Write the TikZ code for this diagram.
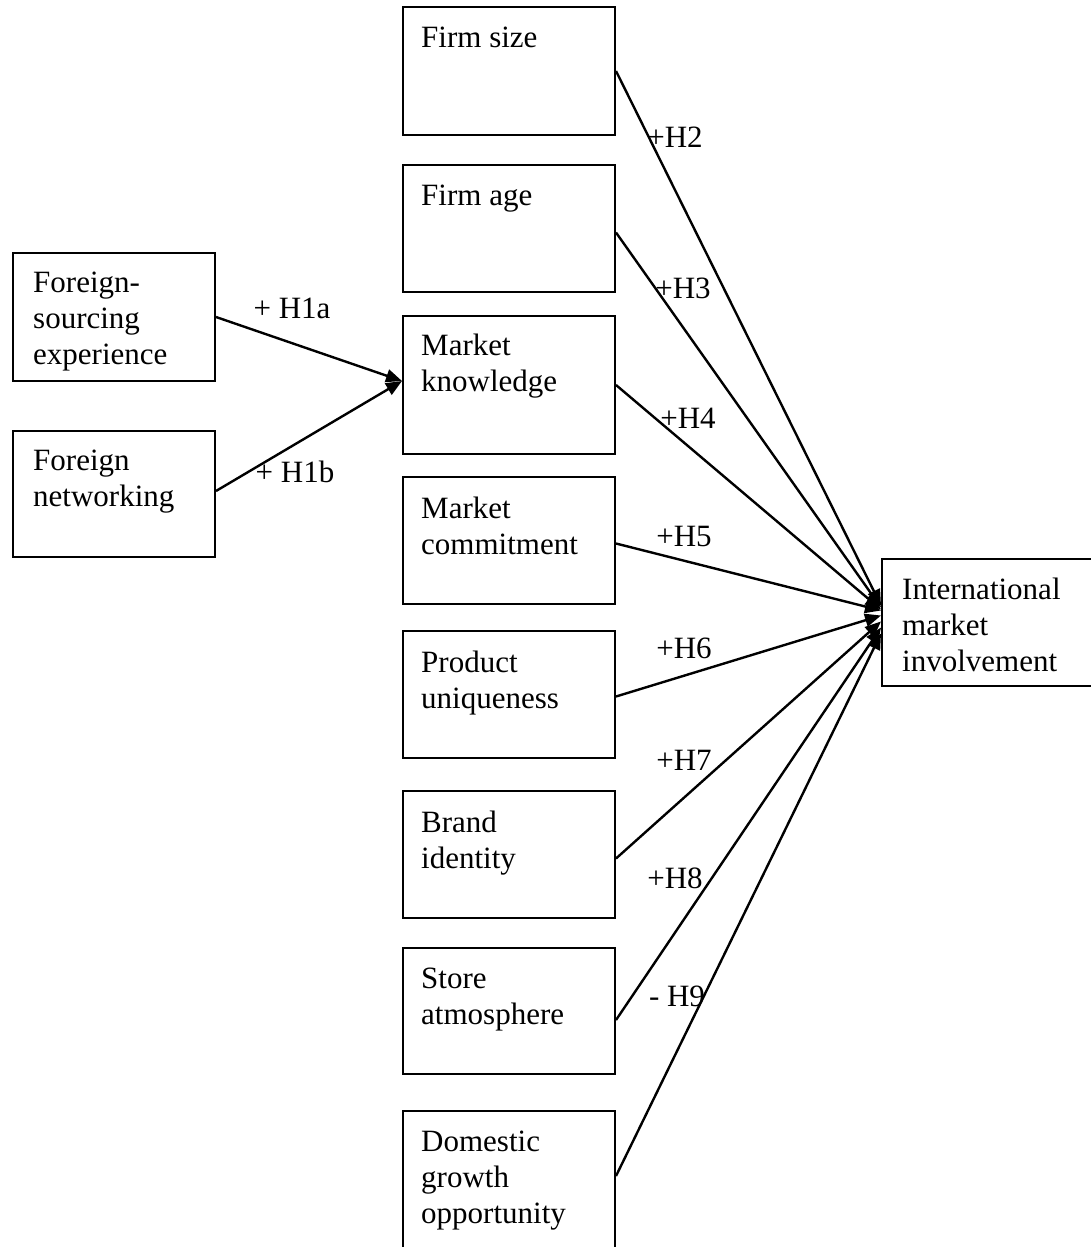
\documentclass[tikz,border=0pt]{standalone}
\usepackage{fontspec}
\setmainfont{Liberation Serif}
\usetikzlibrary{arrows.meta}
\begin{document}
\begin{tikzpicture}[x=1pt,y=-1pt,
  box/.style={draw,line width=2pt,rectangle,inner sep=0pt,anchor=north west},
  boxtext/.style={anchor=north west,inner sep=0pt,align=left,
    font=\fontsize{31}{36}\selectfont},
  hyp/.style={inner sep=0pt,font=\fontsize{31}{36}\selectfont},
  link/.style={line width=2.4pt,-{Triangle[length=16pt,width=13pt]}}]
\useasboundingbox (0,0) rectangle (1091,1247);

% middle column of constructs
\node[box,minimum width=212pt,minimum height=128pt] (size) at (402,6) {};
\node[box,minimum width=212pt,minimum height=127pt] (age)  at (402,164) {};
\node[box,minimum width=212pt,minimum height=138pt] (know) at (402,315) {};
\node[box,minimum width=212pt,minimum height=127pt] (comm) at (402,476) {};
\node[box,minimum width=212pt,minimum height=127pt] (uniq) at (402,630) {};
\node[box,minimum width=212pt,minimum height=127pt] (brand) at (402,790) {};
\node[box,minimum width=212pt,minimum height=126pt] (store) at (402,947) {};
\node[box,minimum width=212pt,minimum height=140pt] (dom)  at (402,1110) {};

% antecedents of market knowledge
\node[box,minimum width=202pt,minimum height=128pt] (fse) at (12,252) {};
\node[box,minimum width=202pt,minimum height=126pt] (fnet) at (12,430) {};

% outcome
\node[box,minimum width=220pt,minimum height=127pt] (imi) at (881,558) {};

% box texts
\node[boxtext] (tsize)  at ([xshift=19pt,yshift=-21pt]size.north west) {Firm size};
\node[boxtext] (tage)   at ([xshift=19pt,yshift=-21pt]age.north west) {Firm age};
\node[boxtext] (tknow)  at ([xshift=19pt,yshift=-19pt]know.north west) {Market\\knowledge};
\node[boxtext] (tcomm)  at ([xshift=19pt,yshift=-21pt]comm.north west) {Market\\commitment};
\node[boxtext] (tuniq)  at ([xshift=19pt,yshift=-21pt]uniq.north west) {Product\\uniqueness};
\node[boxtext] (tbrand) at ([xshift=19pt,yshift=-21pt]brand.north west) {Brand\\identity};
\node[boxtext] (tstore) at ([xshift=19pt,yshift=-21pt]store.north west) {Store\\atmosphere};
\node[boxtext] (tdom)   at ([xshift=19pt,yshift=-21pt]dom.north west) {Domestic\\growth\\opportunity};
\node[boxtext] (tfse)   at ([xshift=21pt,yshift=-20pt]fse.north west) {Foreign-\\sourcing\\experience};
\node[boxtext] (tfnet)  at ([xshift=21pt,yshift=-20pt]fnet.north west) {Foreign\\networking};
\node[boxtext] (timi)   at ([xshift=21pt,yshift=-20pt]imi.north west) {International\\market\\involvement};

% hypothesised paths
\draw[link] (fse.east)  -- ([yshift=4pt]know.west);
\draw[link] ([yshift=3pt]fnet.east) -- ([yshift=4pt]know.west);

\draw[link] (size.east)  -- ([yshift=17pt]imi.west);
\draw[link] ([yshift=-4pt]age.east) -- ([yshift=15pt]imi.west);
\draw[link] (know.east)  -- ([yshift=13pt]imi.west);
\draw[link] ([yshift=-3pt]comm.east) -- ([yshift=12pt]imi.west);
\draw[link] ([yshift=-2pt]uniq.east) -- ([yshift=7pt]imi.west);
\draw[link] ([yshift=-4pt]brand.east) -- ([yshift=1pt]imi.west);
\draw[link] ([yshift=-9pt]store.east) -- ([yshift=-5pt]imi.west);
\draw[link] ([yshift=5pt]dom.east) -- ([yshift=-11pt]imi.west);

% path labels
\node[hyp] (h1a) at (292,308) {+ H1a};
\node[hyp] (h1b) at (295,472) {+ H1b};
\node[hyp] (h2) at (675,137) {+H2};
\node[hyp] (h3) at (683,288) {+H3};
\node[hyp] (h4) at (688,418) {+H4};
\node[hyp] (h5) at (684,536) {+H5};
\node[hyp] (h6) at (684,648) {+H6};
\node[hyp] (h7) at (684,760) {+H7};
\node[hyp] (h8) at (675,878) {+H8};
\node[hyp] (h9) at (677,996) {- H9};
\end{tikzpicture}
\end{document}
